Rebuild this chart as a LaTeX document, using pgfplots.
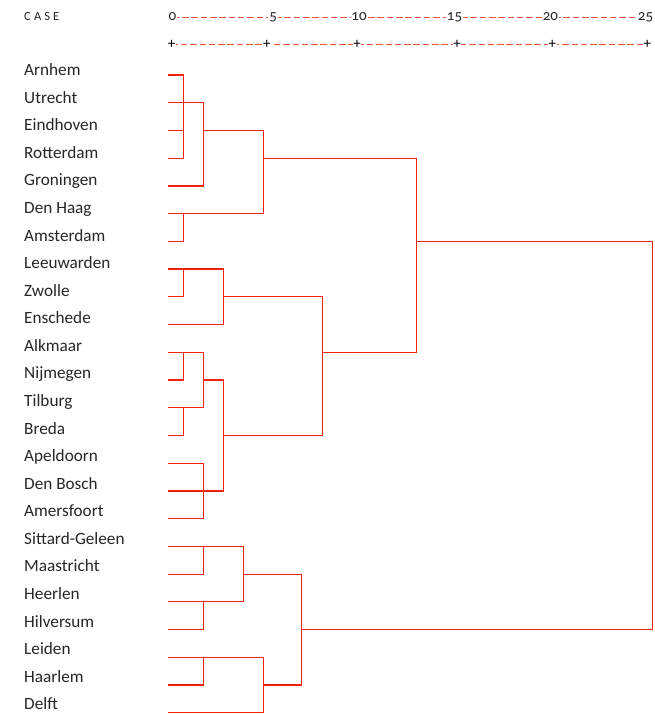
\documentclass[border=0pt]{standalone}
\usepackage{fontspec}
\setmainfont{Carlito}
\newfontfamily\numfont[Numbers=OldStyle]{Carlito}
\usepackage{pgfplots}
\pgfplotsset{compat=1.18}
\definecolor{dred}{RGB}{238,36,14}
\definecolor{lred}{RGB}{236,84,62}
\tikzset{
  seg/.style={draw=dred, line width=1.25pt, mark=none, line join=miter, line cap=rect},
  hdr/.style={draw=lred, line width=1.4pt, mark=none, dash pattern=on 6.5pt off 2.8pt},
  lab/.style={anchor=base west, inner sep=0pt, font=\fontsize{17.2}{20}\selectfont, text=black!85},
  num/.style={anchor=base, fill=white, inner xsep=0.8pt, inner ysep=0.5pt, font=\numfont\fontsize{15}{17}\selectfont, text=black!85},
  pls/.style={anchor=center, fill=white, inner xsep=0.6pt, inner ysep=0.3pt, font=\fontsize{15}{17}\selectfont, text=black},
}
\begin{document}
\begin{tikzpicture}
\begin{axis}[
  scale only axis, width=654pt, height=714pt,
  xmin=-8.848, xmax=25.393, ymin=-2.7046, ymax=23.044, y dir=reverse,
  axis lines=none, clip=false,
]
\coordinate (bl) at (rel axis cs:0,0);
\coordinate (tr) at (rel axis cs:1,1);
% header scale lines
\addplot[hdr] coordinates {(0.2,-2.066) (25.0,-2.066)};
\addplot[hdr] coordinates {(0.14,-1.107) (25.04,-1.107)};
\node[anchor=base west, inner sep=0pt, font=\addfontfeature{LetterSpace=25}\fontsize{12.5}{14}\selectfont, text=black!85] at (axis cs:-7.59,-1.958) {CASE};
\node[num] at (axis cs:0.18,-1.958) {0};
\node[num] at (axis cs:5.45,-1.958) {5};
\node[num] at (axis cs:9.95,-1.958) {10};
\node[num] at (axis cs:14.95,-1.958) {15};
\node[num] at (axis cs:19.97,-1.958) {20};
\node[num] at (axis cs:24.95,-1.958) {25};
\node[pls] at (axis cs:0.14,-1.107) {+};
\node[pls] at (axis cs:5.12,-1.107) {+};
\node[pls] at (axis cs:9.85,-1.107) {+};
\node[pls] at (axis cs:15.08,-1.107) {+};
\node[pls] at (axis cs:20.07,-1.107) {+};
\node[pls] at (axis cs:25.04,-1.107) {+};
% case labels
\node[lab] at (axis cs:-7.59,0.025) {Arnhem};
\node[lab] at (axis cs:-7.59,1.019) {Utrecht};
\node[lab] at (axis cs:-7.59,2.013) {Eindhoven};
\node[lab] at (axis cs:-7.59,3.008) {Rotterdam};
\node[lab] at (axis cs:-7.59,4.002) {Groningen};
\node[lab] at (axis cs:-7.59,4.996) {Den Haag};
\node[lab] at (axis cs:-7.59,5.990) {Amsterdam};
\node[lab] at (axis cs:-7.59,6.984) {Leeuwarden};
\node[lab] at (axis cs:-7.59,7.979) {Zwolle};
\node[lab] at (axis cs:-7.59,8.973) {Enschede};
\node[lab] at (axis cs:-7.59,9.967) {Alkmaar};
\node[lab] at (axis cs:-7.59,10.961) {Nijmegen};
\node[lab] at (axis cs:-7.59,11.955) {Tilburg};
\node[lab] at (axis cs:-7.59,12.950) {Breda};
\node[lab] at (axis cs:-7.59,13.944) {Apeldoorn};
\node[lab] at (axis cs:-7.59,14.938) {Den Bosch};
\node[lab] at (axis cs:-7.59,15.932) {Amersfoort};
\node[lab] at (axis cs:-7.59,16.926) {Sittard-Geleen};
\node[lab] at (axis cs:-7.59,17.921) {Maastricht};
\node[lab] at (axis cs:-7.59,18.915) {Heerlen};
\node[lab] at (axis cs:-7.59,19.909) {Hilversum};
\node[lab] at (axis cs:-7.59,20.903) {Leiden};
\node[lab] at (axis cs:-7.59,21.897) {Haarlem};
\node[lab] at (axis cs:-7.59,22.892) {Delft};
% dendrogram: upper cluster
\addplot[seg] coordinates {(0,0) (0.77,0) (0.77,3) (0,3)};
\addplot[seg] coordinates {(0,2) (0.77,2)};
\addplot[seg] coordinates {(0,1) (1.8,1) (1.8,4) (0,4)};
\addplot[seg] coordinates {(1.8,2) (4.94,2) (4.94,5) (0,5)};
\addplot[seg] coordinates {(0,6) (0.77,6) (0.77,5)};
\addplot[seg] coordinates {(4.94,3) (12.97,3) (12.97,10) (8.03,10)};
\addplot[seg] coordinates {(12.97,6) (25.3,6) (25.3,20) (6.95,20)};
% middle cluster
\addplot[seg] coordinates {(0,7) (2.84,7) (2.84,9) (0,9)};
\addplot[seg] coordinates {(0,8) (0.77,8) (0.77,7)};
\addplot[seg] coordinates {(2.84,8) (8.03,8) (8.03,13) (2.84,13)};
\addplot[seg] coordinates {(0,10) (1.8,10) (1.8,12) (0,12)};
\addplot[seg] coordinates {(0,11) (0.77,11) (0.77,10)};
\addplot[seg] coordinates {(0,13) (0.77,13) (0.77,12)};
\addplot[seg] coordinates {(1.8,11) (2.84,11) (2.84,15) (0,15)};
\addplot[seg] coordinates {(0,14) (1.8,14) (1.8,16) (0,16)};
% lower cluster
\addplot[seg] coordinates {(0,17) (3.89,17) (3.89,19) (0,19)};
\addplot[seg] coordinates {(0,18) (1.8,18) (1.8,17)};
\addplot[seg] coordinates {(0,20) (1.8,20) (1.8,19)};
\addplot[seg] coordinates {(3.89,18) (6.95,18) (6.95,22) (4.94,22)};
\addplot[seg] coordinates {(0,21) (4.94,21) (4.94,23) (0,23)};
\addplot[seg] coordinates {(0,22) (1.8,22) (1.8,21)};
\end{axis}
\pgfresetboundingbox
\path (bl) rectangle (tr);
\end{tikzpicture}
\end{document}
